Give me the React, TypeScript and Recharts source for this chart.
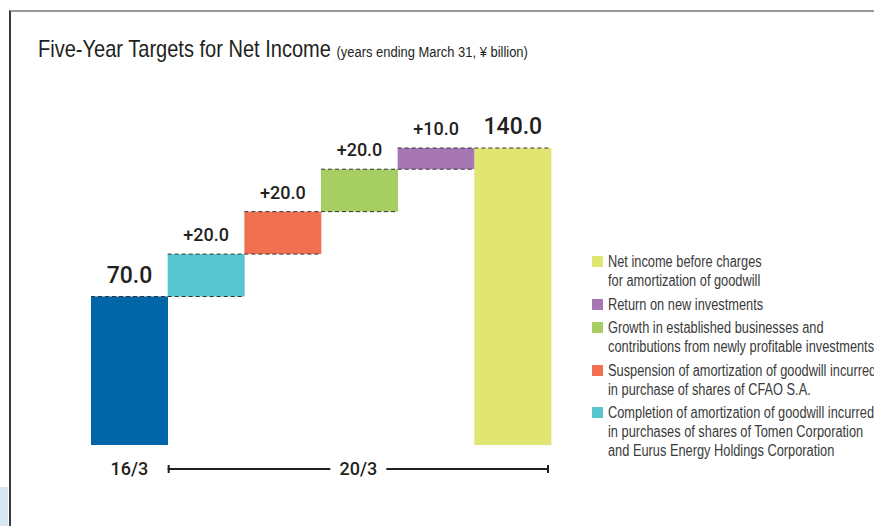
import { Bar, BarChart, LabelList, XAxis, YAxis } from 'recharts';

const categories = ['16/3', 'Completion', 'Suspension', 'Growth', 'Return', '20/3'];
const stepValues = [70, 20, 20, 20, 10, 140];
const isTotal = [true, false, false, false, false, true];
const barColors = ['#0066a8', '#57c5cf', '#f27052', '#a6ce62', '#a777b3', '#e1e572'];
const periodLabels = ['16/3', '20/3'];

const legendColors = ['#e1e572', '#a777b3', '#a6ce62', '#f27052', '#57c5cf'];
const legendLabels = [
  ['Net income before charges', 'for amortization of goodwill'],
  ['Return on new investments'],
  ['Growth in established businesses and', 'contributions from newly profitable investments'],
  ['Suspension of amortization of goodwill incurred', 'in purchase of shares of CFAO S.A.'],
  [
    'Completion of amortization of goodwill incurred',
    'in purchases of shares of Tomen Corporation',
    'and Eurus Energy Holdings Corporation',
  ],
];

let running = 0;
const data = categories.map((name, i) => {
  const base = isTotal[i] ? 0 : running;
  running = isTotal[i] ? stepValues[i] : running + stepValues[i];
  return { name, base, value: stepValues[i], color: barColors[i] };
});

// no narrow face installed, so squeeze Liberation Sans instead
const SANS = "'Liberation Sans', Arial, sans-serif";
const NUM = "Roboto, 'Liberation Sans', Arial, sans-serif";
const INK = '#231f20';

const StepBar = (props: any) => {
  const { x, y, width, height, payload } = props;
  return (
    <g>
      <rect x={x} y={y} width={width} height={height} fill={payload.color} />
      <line x1={x} x2={x + width} y1={y} y2={y} stroke="#333" strokeDasharray="4 3" />
      {payload.base > 0 && (
        <line x1={x} x2={x + width} y1={y + height} y2={y + height} stroke="#333" strokeDasharray="4 3" />
      )}
    </g>
  );
};

const StepLabel = (props: any) => {
  const { x, y, width, index } = props;
  const total = isTotal[index];
  const v = stepValues[index];
  return (
    <text
      x={x + width / 2}
      y={y - (total ? 14 : 13)}
      textAnchor="middle"
      fontFamily={NUM}
      fontWeight={500}
      fontSize={total ? 23 : 18}
      fill={INK}
    >
      {total ? v.toFixed(1) : `+${v.toFixed(1)}`}
    </text>
  );
};

const PeriodTick = (props: any) => {
  const { x, y, index, payload } = props;
  const half = payload?.offset || 38.33;
  const ty = y + 24;
  const style = { fontFamily: NUM, fontWeight: 500, fontSize: 18, fill: INK };
  if (index === 0) {
    return (
      <text x={x} y={ty} dy="0.35em" textAnchor="middle" {...style}>
        {periodLabels[0]}
      </text>
    );
  }
  if (index === 1) {
    const left = x - half;
    const right = x + 9 * half - 2;
    const mid = (left + right) / 2;
    return (
      <g>
        <line x1={left} x2={mid - 28} y1={ty} y2={ty} stroke={INK} strokeWidth={2} />
        <line x1={mid + 28} x2={right} y1={ty} y2={ty} stroke={INK} strokeWidth={2} />
        <line x1={left + 1} x2={left + 1} y1={ty - 4} y2={ty + 4} stroke={INK} strokeWidth={2} />
        <line x1={right - 1} x2={right - 1} y1={ty - 4} y2={ty + 4} stroke={INK} strokeWidth={2} />
        <text x={mid} y={ty} dy="0.35em" textAnchor="middle" {...style}>
          {periodLabels[1]}
        </text>
      </g>
    );
  }
  return <g />;
};

export default function App() {
  return (
    <div
      style={{
        position: 'absolute',
        left: 0,
        top: 0,
        width: 874,
        height: 526,
        overflow: 'hidden',
        background: '#fff',
      }}
    >
      <div style={{ position: 'absolute', left: 0, top: 487, width: 8, height: 39, background: '#d6e7f1' }} />
      <div
        style={{
          position: 'absolute',
          left: 9,
          top: 10,
          width: 900,
          height: 600,
          borderTop: '2px solid #999',
          borderLeft: '2px solid #3a3a3a',
        }}
      />
      <div
        style={{
          position: 'absolute',
          left: 38,
          top: 35,
          whiteSpace: 'nowrap',
          fontFamily: SANS,
          color: INK,
          fontSize: 24,
          transform: 'scaleX(0.835)',
          transformOrigin: 'left top',
        }}
      >
        Five-Year Targets for Net Income{' '}
        <span style={{ fontSize: 15.5 }}>(years ending March 31, ¥ billion)</span>
      </div>

      <div style={{ position: 'absolute', left: 0, top: 0 }}>
        <BarChart
          width={874}
          height={526}
          data={data}
          margin={{ top: 148, right: 323, bottom: 41, left: 91 }}
          barCategoryGap={0}
          barGap={0}
        >
          <XAxis
            dataKey="name"
            height={40}
            axisLine={false}
            tickLine={false}
            tickSize={0}
            tickMargin={0}
            interval={0}
            tick={<PeriodTick />}
          />
          <YAxis hide domain={[0, 140]} />
          <Bar dataKey="base" stackId="w" fill="transparent" isAnimationActive={false} />
          <Bar dataKey="value" stackId="w" shape={<StepBar />} isAnimationActive={false}>
            <LabelList dataKey="value" content={<StepLabel />} />
          </Bar>
        </BarChart>
      </div>

      <div
        style={{
          position: 'absolute',
          left: 592,
          top: 252,
          fontFamily: SANS,
          fontSize: 16,
          lineHeight: '19px',
          color: '#3a3a3a',
          whiteSpace: 'nowrap',
        }}
      >
        {legendLabels.map((lines, i) => (
          <div key={i} style={{ display: 'flex', marginBottom: 4.5 }}>
            <div
              style={{ width: 11, height: 11, marginTop: 4, marginRight: 5, background: legendColors[i], flexShrink: 0 }}
            />
            <div style={{ transform: 'scaleX(0.8)', transformOrigin: 'left top' }}>
              {lines.map((l, j) => (
                <div key={j}>{l}</div>
              ))}
            </div>
          </div>
        ))}
      </div>
    </div>
  );
}
